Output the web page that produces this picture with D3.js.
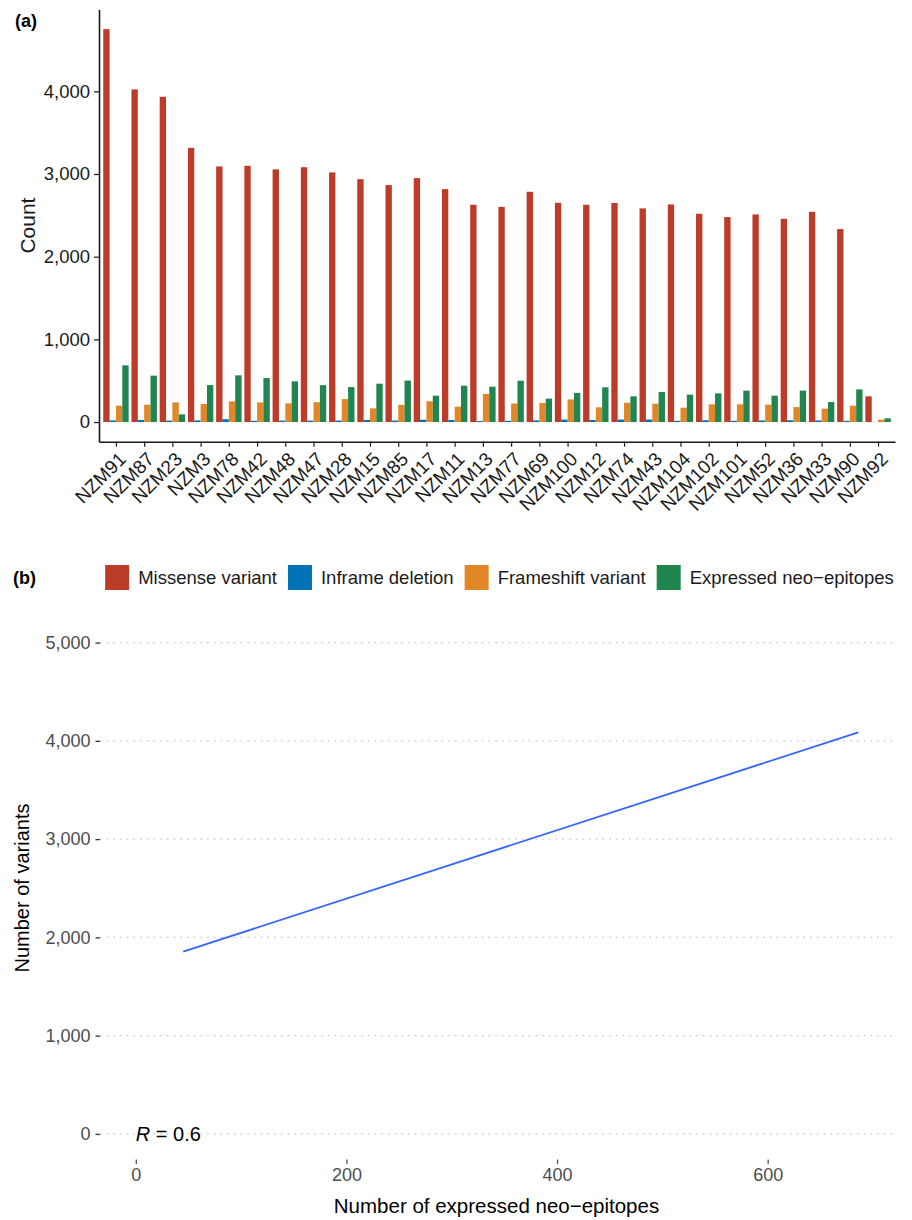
<!DOCTYPE html>
<html>
<head>
<meta charset="utf-8">
<script src="https://cdn.jsdelivr.net/npm/d3@7/dist/d3.min.js"></script>
<style>
  body { margin: 0; background: #ffffff; }
  svg { display: block; font-family: "Liberation Sans", Arial, sans-serif; }
</style>
</head>
<body>
<div id="chart"></div>
<script>
// samples in the order of the figure (sorted by total variants)
var samples = ["NZM91", "NZM87", "NZM23", "NZM3", "NZM78", "NZM42", "NZM48", "NZM47", "NZM28", "NZM15",
    "NZM85", "NZM17", "NZM11", "NZM13", "NZM77", "NZM69", "NZM100", "NZM12", "NZM74", "NZM43",
    "NZM104", "NZM102", "NZM101", "NZM52", "NZM36", "NZM33", "NZM90", "NZM92"];

var seriesNames = ["Missense variant", "Inframe deletion", "Frameshift variant", "Expressed neo\u2212epitopes"];
var seriesColors = ["#BC3C29", "#0072B5", "#E18727", "#20854E"];

var missense = [4752, 4023, 3934, 3317, 3092, 3099, 3056, 3082, 3019, 2938,
    2866, 2950, 2817, 2628, 2603, 2785, 2652, 2628, 2650, 2584,
    2632, 2519, 2479, 2511, 2458, 2543, 2334, 311];
var inframe = [20, 25, 18, 20, 35, 15, 18, 18, 18, 25,
    18, 28, 25, 12, 15, 20, 30, 25, 30, 30,
    15, 22, 15, 20, 22, 20, 15, 2];
var frameshift = [198, 210, 238, 218, 250, 238, 226, 240, 278, 166,
    208, 252, 186, 339, 224, 230, 274, 178, 234, 222,
    174, 214, 214, 210, 181, 162, 198, 29];
var neoEpitopes = [686, 561, 93, 447, 565, 532, 492, 446, 423, 464,
    502, 319, 440, 428, 500, 283, 353, 420, 311, 363,
    331, 347, 380, 319, 380, 242, 395, 45];

var countTicks = [0, 1000, 2000, 3000, 4000];

// panel (b): fitted line (lm) of variants vs expressed neo-epitopes
var fitNeo = [45, 686];
var fitVariants = [1855, 4086];
var corValue = "0.6";
var variantTicks = [0, 1000, 2000, 3000, 4000, 5000];
var neoTicks = [0, 200, 400, 600];

var svg = d3.select("#chart")
    .append("svg")
    .attr("width", 912)
    .attr("height", 1220);

// ------------------------------------------------------------------ (a)
var countTable = samples.map(function (s, i) {
    return { sample: s, values: [missense[i], inframe[i], frameshift[i], neoEpitopes[i]] };
});

var x = d3.scalePoint()
    .domain(samples)
    .range([99, 895])
    .padding(0.6);

var xSub = d3.scaleBand()
    .domain(d3.range(seriesNames.length))
    .range([-0.45 * x.step(), 0.45 * x.step()]);

var maxCount = d3.max(missense);
var y = d3.scaleLinear()
    .domain([-0.05 * maxCount, 1.05 * maxCount])
    .range([441.7, 9.5]);

var groups = svg.append("g")
    .selectAll("g")
    .data(countTable)
    .join("g")
    .attr("transform", function (d) { return "translate(" + x(d.sample) + ",0)"; });

groups.selectAll("rect")
    .data(function (d) { return d.values; })
    .join("rect")
    .attr("x", function (d, i) { return xSub(i); })
    .attr("width", xSub.bandwidth())
    .attr("y", function (d) { return y(d); })
    .attr("height", function (d) { return y(0) - y(d); })
    .attr("fill", function (d, i) { return seriesColors[i]; });

// y axis
var yAxisA = svg.append("g")
    .attr("transform", "translate(99,0)")
    .call(d3.axisLeft(y).tickValues(countTicks).tickFormat(d3.format(",")).tickSize(5).tickSizeOuter(0).tickPadding(4));
yAxisA.selectAll("text").attr("font-size", 18.5).attr("fill", "#1a1a1a").attr("font-family", "Liberation Sans, Arial, sans-serif");
yAxisA.selectAll("line").attr("stroke", "#1a1a1a").attr("stroke-width", 1.2);
yAxisA.select(".domain").attr("stroke", "#1a1a1a").attr("stroke-width", 1.6);

// x axis
var xAxisA = svg.append("g")
    .attr("transform", "translate(0,441.7)")
    .call(d3.axisBottom(x).tickSize(5).tickSizeOuter(0));
xAxisA.select(".domain").attr("stroke", "#1a1a1a").attr("stroke-width", 1.6);
xAxisA.selectAll("line").attr("stroke", "#1a1a1a").attr("stroke-width", 1.2);
xAxisA.selectAll("text")
    .attr("font-size", 19)
    .attr("fill", "#1a1a1a")
    .attr("font-family", "Liberation Sans, Arial, sans-serif")
    .attr("text-anchor", "end")
    .attr("x", 0)
    .attr("y", 0)
    .attr("dy", "0.72em")
    .attr("transform", "translate(1,9) rotate(-45)");

svg.append("text")
    .attr("transform", "translate(35,225.6) rotate(-90)")
    .attr("text-anchor", "middle")
    .attr("font-size", 21)
    .attr("fill", "#1a1a1a")
    .text("Count");

svg.append("text")
    .attr("x", 15)
    .attr("y", 27)
    .attr("font-size", 18)
    .attr("font-weight", "bold")
    .text("(a)");

// legend (between the panels)
svg.append("text")
    .attr("x", 13)
    .attr("y", 584)
    .attr("font-size", 18)
    .attr("font-weight", "bold")
    .text("(b)");

var legend = svg.append("g");
var lx = 0;
seriesNames.forEach(function (name, i) {
    legend.append("rect")
        .attr("x", lx)
        .attr("y", 565)
        .attr("width", 24)
        .attr("height", 25)
        .attr("fill", seriesColors[i]);
    var t = legend.append("text")
        .attr("x", lx + 24 + 9)
        .attr("y", 577.5)
        .attr("dy", "0.35em")
        .attr("font-size", 18.5)
        .attr("fill", "#1a1a1a")
        .text(name);
    lx = lx + 24 + 9 + t.node().getComputedTextLength() + 11;
});
var legendWidth = lx - 11;
legend.attr("transform", "translate(" + (499.5 - legendWidth / 2) + ",0)");

// ------------------------------------------------------------------ (b)
var xb = d3.scaleLinear().domain([-34, 719]).range([100, 893]);
var yb = d3.scaleLinear().domain([-250, 5250]).range([1158.5, 618]);

// dotted horizontal grid
svg.append("g")
    .selectAll("line")
    .data(variantTicks)
    .join("line")
    .attr("x1", 100)
    .attr("x2", 893)
    .attr("y1", function (d) { return yb(d); })
    .attr("y2", function (d) { return yb(d); })
    .attr("stroke", "#c4c4c4")
    .attr("stroke-width", 1.3)
    .attr("stroke-dasharray", "1.5,5.2");

var yAxisB = svg.append("g")
    .attr("transform", "translate(100,0)")
    .call(d3.axisLeft(yb).tickValues(variantTicks).tickFormat(d3.format(",")).tickSize(4.5).tickPadding(5));
yAxisB.select(".domain").remove();
yAxisB.selectAll("line").attr("stroke", "#333333").attr("stroke-width", 1.3);
yAxisB.selectAll("text").attr("font-size", 18).attr("fill", "#4d4d4d").attr("font-family", "Liberation Sans, Arial, sans-serif");

var xAxisB = svg.append("g")
    .attr("transform", "translate(0,1159.5)")
    .call(d3.axisBottom(xb).tickValues(neoTicks).tickSize(4.5).tickPadding(4));
xAxisB.select(".domain").remove();
xAxisB.selectAll("line").attr("stroke", "#555555").attr("stroke-width", 1.3);
xAxisB.selectAll("text").attr("font-size", 18).attr("fill", "#4d4d4d").attr("font-family", "Liberation Sans, Arial, sans-serif");

var fitData = fitNeo.map(function (v, i) { return { x: v, y: fitVariants[i] }; });
svg.append("path")
    .datum(fitData)
    .attr("fill", "none")
    .attr("stroke", "#3366FF")
    .attr("stroke-width", 1.7)
    .attr("d", d3.line()
        .x(function (d) { return xb(d.x); })
        .y(function (d) { return yb(d.y); }));

var rLabel = svg.append("text")
    .attr("x", xb(0))
    .attr("y", yb(0))
    .attr("dy", "0.35em")
    .attr("font-size", 20)
    .attr("fill", "#000000");
rLabel.append("tspan").attr("font-style", "italic").text("R");
rLabel.append("tspan").text(" = " + corValue);

svg.append("text")
    .attr("transform", "translate(28.5,888) rotate(-90)")
    .attr("text-anchor", "middle")
    .attr("font-size", 20)
    .attr("fill", "#000000")
    .text("Number of variants");

svg.append("text")
    .attr("x", 496.5)
    .attr("y", 1213)
    .attr("text-anchor", "middle")
    .attr("font-size", 20.5)
    .attr("fill", "#000000")
    .text("Number of expressed neo\u2212epitopes");
</script>
</body>
</html>
